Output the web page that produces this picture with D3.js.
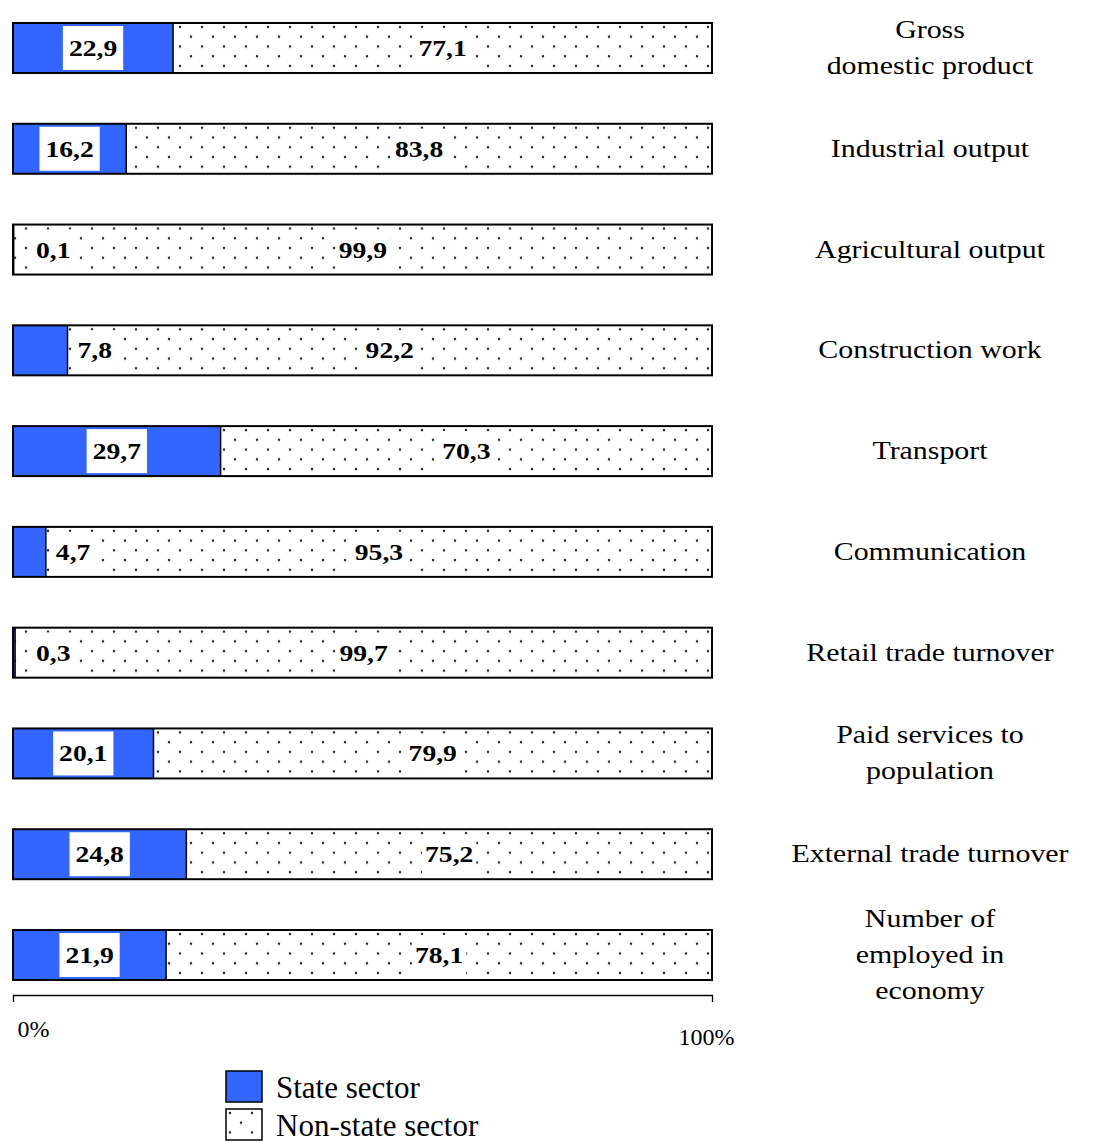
<!DOCTYPE html>
<html>
<head>
<meta charset="utf-8">
<script src="https://cdn.jsdelivr.net/npm/d3@7"></script>
<style>
  body { margin: 0; background: #fff; }
  text { font-family: "Liberation Serif", "Times New Roman", serif; fill: #000; }
</style>
</head>
<body>
<svg id="chart" width="1095" height="1146"></svg>
<script>
// Share of state and non-state sectors in main indicators, %
const categories = [
  "Gross\ndomestic product",
  "Industrial output",
  "Agricultural output",
  "Construction work",
  "Transport",
  "Communication",
  "Retail trade turnover",
  "Paid services to\npopulation",
  "External trade turnover",
  "Number of\nemployed in\neconomy"
];
const stateSector    = [22.9, 16.2, 0.1, 7.8, 29.7, 4.7, 0.3, 20.1, 24.8, 21.9];
const nonStateSector = [77.1, 83.8, 99.9, 92.2, 70.3, 95.3, 99.7, 79.9, 75.2, 78.1];
const seriesNames = ["State sector", "Non-state sector"];
const axisTicks = [0, 100];
const axisTickLabels = ["0%", "100%"];

const BLUE = "#3366ff";
const fmt = v => v.toFixed(1).replace(".", ",");

const svg = d3.select("#chart");

// scales
const x = d3.scaleLinear().domain([0, 100]).range([13, 712]);
const y = d3.scaleBand().domain(categories).range([23, 980]).paddingInner(0.504).paddingOuter(0);
const bh = y.bandwidth();

// dotted fill for the non-state sector
const defs = svg.append("defs");
const pat = defs.append("pattern")
  .attr("id", "dots")
  .attr("patternUnits", "userSpaceOnUse")
  .attr("width", 22).attr("height", 19.5);
pat.append("rect").attr("width", 22).attr("height", 19.5).attr("fill", "#fff");
pat.append("circle").attr("cx", 4).attr("cy", 4).attr("r", 1.25).attr("fill", "#2a2a2a");
pat.append("circle").attr("cx", 15).attr("cy", 13.75).attr("r", 1.25).attr("fill", "#2a2a2a");

// draw text horizontally stretched around an anchor point
function stretchedText(parent, str, px, py, opts) {
  const g = parent.append("g").attr("transform", `translate(${px},${py})`);
  const inner = g.append("g").attr("transform", `scale(${opts.sx},1)`);
  const t = inner.append("text")
    .attr("text-anchor", opts.anchor || "middle")
    .attr("font-size", opts.size)
    .attr("font-weight", opts.weight || "normal")
    .text(str);
  return { g, t };
}

const rows = svg.append("g").selectAll("g.row")
  .data(categories.map((c, i) => ({ c, s: stateSector[i], n: nonStateSector[i] })))
  .join("g").attr("class", "row")
  .attr("transform", d => `translate(0,${y(d.c)})`);

// non-state segment
rows.append("rect")
  .attr("x", d => x(d.s)).attr("y", 0)
  .attr("width", d => x(d.s + d.n) - x(d.s)).attr("height", bh)
  .attr("fill", "url(#dots)");

// state segment
rows.append("rect")
  .attr("x", x(0)).attr("y", 0)
  .attr("width", d => x(d.s) - x(0)).attr("height", bh)
  .attr("fill", BLUE);

// divider between segments
rows.append("line")
  .attr("x1", d => x(d.s)).attr("x2", d => x(d.s))
  .attr("y1", 0).attr("y2", bh)
  .attr("stroke", "#000").attr("stroke-width", 1.5);

// bar outline
rows.append("rect")
  .attr("x", x(0)).attr("y", 0)
  .attr("width", d => x(d.s + d.n) - x(0)).attr("height", bh)
  .attr("fill", "none").attr("stroke", "#000").attr("stroke-width", 2);

// value labels
const VAL = { size: 24, sx: 1.15, weight: "bold" };
rows.each(function (d) {
  const row = d3.select(this);
  const cy = bh / 2;
  const base = cy + 8;

  // state value
  let sxPos, anchor;
  if (d.s >= 10) { sxPos = (x(0) + x(d.s)) / 2; anchor = "middle"; }
  else { sxPos = Math.max(x(d.s) + 10, x(0) + 23); anchor = "start"; }
  const boxS = row.append("rect").attr("fill", "#fff");
  const ls = stretchedText(row, fmt(d.s), sxPos, base, { ...VAL, anchor });
  const ws = ls.t.node().getBBox().width * VAL.sx;
  const padS = d.s >= 10 ? 6 : 3;
  const leftS = anchor === "middle" ? sxPos - ws / 2 : sxPos;
  boxS.attr("x", leftS - padS).attr("width", ws + 2 * padS)
      .attr("y", d.s >= 10 ? 3 : 5).attr("height", d.s >= 10 ? bh - 6 : bh - 10);

  // non-state value
  const nx = (x(d.s) + x(d.s + d.n)) / 2;
  const boxN = row.append("rect").attr("fill", "#fff");
  const ln = stretchedText(row, fmt(d.n), nx, base, VAL);
  const wn = ln.t.node().getBBox().width * VAL.sx;
  boxN.attr("x", nx - wn / 2 - 3).attr("width", wn + 6).attr("y", 5).attr("height", bh - 10);
});

// category labels
const CAT = { size: 26, sx: 1.15 };
const lineH = 36;
categories.forEach(c => {
  const lines = c.split("\n");
  const cy = y(c) + bh / 2;
  lines.forEach((ln, k) => {
    const ly = cy + (k - (lines.length - 1) / 2) * lineH + 8;
    stretchedText(svg, ln, 930, ly, CAT);
  });
});

// axis
const axisY = 995;
const axis = d3.axisBottom(x)
  .tickValues(axisTicks)
  .tickSizeInner(0).tickSizeOuter(7)
  .tickFormat((v, i) => axisTickLabels[i]);
const ax = svg.append("g").attr("transform", `translate(0,${axisY})`).call(axis);
ax.select(".domain").attr("stroke", "#000").attr("stroke-width", 1.3);
ax.selectAll(".tick line").remove();
ax.selectAll(".tick text")
  .attr("font-family", "Liberation Serif, serif")
  .attr("font-size", 24)
  .attr("fill", "#000")
  .attr("text-anchor", "middle")
  .attr("transform", (v, i) => i === 0 ? "translate(20,0)" : "translate(-6,0)")
  .attr("y", (v, i) => i === 0 ? 42 : 50)
  .attr("dy", 0);

// legend
const legend = svg.append("g").attr("transform", "translate(226,1071)");
const items = legend.selectAll("g").data(seriesNames).join("g")
  .attr("transform", (d, i) => `translate(0,${i * 38})`);
items.append("rect")
  .attr("width", 36).attr("height", 31)
  .attr("fill", (d, i) => i === 0 ? BLUE : "url(#dots)")
  .attr("stroke", "#000").attr("stroke-width", 1.5);
items.append("text")
  .attr("x", 50).attr("y", 27)
  .attr("font-size", 31)
  .text(d => d);
</script>
</body>
</html>
